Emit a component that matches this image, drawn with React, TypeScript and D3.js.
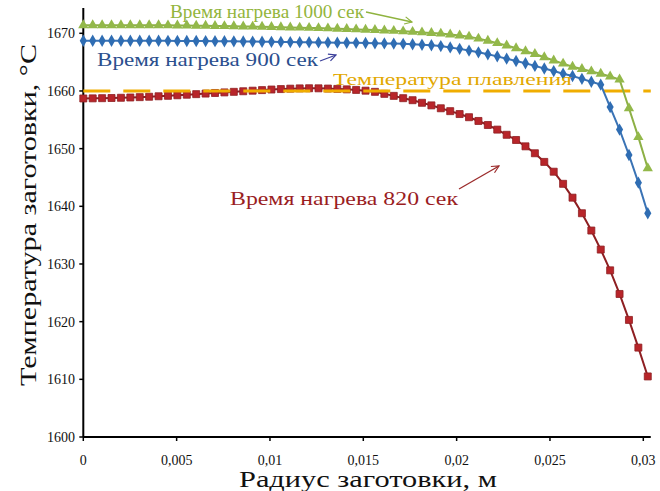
import React, { useEffect, useRef } from 'react';
import * as d3 from 'd3';

// radius grid, m
const radius = [
  0, 0.000504, 0.001008, 0.001512, 0.002016, 0.00252, 0.003024, 0.003528, 0.004032, 0.004536,
  0.00504, 0.005544, 0.006048, 0.006552, 0.007056, 0.00756, 0.008064, 0.008568, 0.009072, 0.009576,
  0.01008, 0.010584, 0.011088, 0.011592, 0.012096, 0.0126, 0.013104, 0.013608, 0.014112, 0.014616,
  0.01512, 0.015624, 0.016128, 0.016632, 0.017136, 0.01764, 0.018144, 0.018648, 0.019152, 0.019656,
  0.02016, 0.020664, 0.021168, 0.021672, 0.022176, 0.02268, 0.023184, 0.023688, 0.024192, 0.024696,
  0.0252, 0.025704, 0.026208, 0.026712, 0.027216, 0.02772, 0.028224, 0.028728, 0.029232, 0.029736,
  0.03024,
];

// heating 1000 s
const temp1000 = [
  1671.4, 1671.4, 1671.4, 1671.4, 1671.4, 1671.4, 1671.4, 1671.4, 1671.4, 1671.38,
  1671.36, 1671.34, 1671.32, 1671.3, 1671.28, 1671.25, 1671.22, 1671.19, 1671.16, 1671.13,
  1671.1, 1671.06, 1671.02, 1670.98, 1670.94, 1670.9, 1670.85, 1670.8, 1670.74, 1670.68,
  1670.62, 1670.56, 1670.49, 1670.42, 1670.34, 1670.25, 1670.16, 1670.06, 1669.95, 1669.8,
  1669.62, 1669.42, 1669.08, 1668.7, 1668.3, 1667.9, 1667.4, 1666.9, 1666.4, 1665.85,
  1665.3, 1664.75, 1664.2, 1663.8, 1663.4, 1663.0, 1662.5, 1662.0, 1657.0, 1652.0,
  1646.6,
];

// heating 900 s
const temp900 = [
  1668.7, 1668.7, 1668.7, 1668.7, 1668.7, 1668.7, 1668.7, 1668.7, 1668.7, 1668.69,
  1668.68, 1668.67, 1668.66, 1668.65, 1668.64, 1668.62, 1668.6, 1668.58, 1668.56, 1668.54,
  1668.52, 1668.5, 1668.48, 1668.46, 1668.44, 1668.42, 1668.4, 1668.38, 1668.36, 1668.34,
  1668.31, 1668.28, 1668.25, 1668.21, 1668.17, 1668.1, 1668.02, 1667.92, 1667.78, 1667.55,
  1667.3, 1667.0, 1666.7, 1666.35, 1666.0, 1665.6, 1665.2, 1664.8, 1664.35, 1663.9,
  1663.45, 1663.0, 1662.6, 1662.1, 1661.6, 1661.1, 1657.2, 1653.3, 1648.9, 1644.1,
  1638.8,
];

// heating 820 s
const temp820 = [
  1658.7, 1658.72, 1658.75, 1658.78, 1658.82, 1658.87, 1658.93, 1659.0, 1659.08, 1659.16,
  1659.25, 1659.35, 1659.45, 1659.55, 1659.65, 1659.75, 1659.85, 1659.95, 1660.05, 1660.15,
  1660.25, 1660.33, 1660.4, 1660.45, 1660.47, 1660.46, 1660.42, 1660.36, 1660.28, 1660.18,
  1660.05, 1659.85, 1659.5, 1659.15, 1658.75, 1658.4, 1657.95, 1657.5, 1657.0, 1656.5,
  1656.0, 1655.45, 1654.8, 1654.1, 1653.3, 1652.4, 1651.5, 1650.4, 1649.2, 1647.7,
  1646.0, 1643.9, 1641.5, 1638.8, 1635.8, 1632.5, 1628.9, 1624.8, 1620.3, 1615.5,
  1610.5,
];

const meltTemp = 1660;

const xTicks = [0, 0.005, 0.01, 0.015, 0.02, 0.025, 0.03];
const yTicks = [1600, 1610, 1620, 1630, 1640, 1650, 1660, 1670];

const xMax = 0.0304;
const yMax = 1674.4;

const W = 660;
const H = 491;
const serif = '"Liberation Serif", "Times New Roman", serif';

export default function App() {
  const ref = useRef<SVGSVGElement>(null);

  useEffect(() => {
    const svg = d3.select(ref.current);
    svg.selectAll('*').remove();

    const x = d3.scaleLinear().domain([0, 0.03]).range([83.3, 643.3]);
    const y = d3.scaleLinear().domain([1600, 1670]).range([437, 33.3]);

    const defs = svg.append('defs');
    const arrow = (id: string, color: string) => {
      defs
        .append('marker')
        .attr('id', id)
        .attr('viewBox', '0 0 10 10')
        .attr('refX', 9)
        .attr('refY', 5)
        .attr('markerWidth', 7)
        .attr('markerHeight', 7)
        .attr('orient', 'auto')
        .append('path')
        .attr('d', 'M1,1 L9,5 L1,9')
        .attr('fill', 'none')
        .attr('stroke', color)
        .attr('stroke-width', 1.3);
    };
    arrow('arGreen', '#8fb33f');
    arrow('arBlue', '#3b3f9a');
    arrow('arRed', '#9b2a2a');

    // axes
    const axes = svg.append('g').attr('stroke', '#000');
    axes
      .append('line')
      .attr('x1', x(0))
      .attr('x2', x(xMax))
      .attr('y1', y(1600))
      .attr('y2', y(1600))
      .attr('stroke-width', 2);
    axes
      .append('line')
      .attr('x1', x(0))
      .attr('x2', x(0))
      .attr('y1', y(1600))
      .attr('y2', y(yMax))
      .attr('stroke-width', 2);
    axes
      .selectAll('.xt')
      .data(xTicks)
      .enter()
      .append('line')
      .attr('x1', d => x(d))
      .attr('x2', d => x(d))
      .attr('y1', y(1600))
      .attr('y2', y(1600) + 4)
      .attr('stroke-width', 1.5);
    axes
      .selectAll('.yt')
      .data(yTicks)
      .enter()
      .append('line')
      .attr('x1', x(0) - 4)
      .attr('x2', x(0))
      .attr('y1', d => y(d))
      .attr('y2', d => y(d))
      .attr('stroke-width', 1.5);

    svg
      .append('g')
      .selectAll('text')
      .data(xTicks)
      .enter()
      .append('text')
      .attr('x', d => x(d))
      .attr('y', 465)
      .attr('text-anchor', 'middle')
      .attr('font-family', serif)
      .attr('font-size', 14)
      .attr('fill', '#111')
      .text(d => String(d).replace('.', ','));

    svg
      .append('g')
      .selectAll('text')
      .data(yTicks)
      .enter()
      .append('text')
      .attr('x', 75)
      .attr('y', d => y(d) + 5)
      .attr('text-anchor', 'end')
      .attr('font-family', serif)
      .attr('font-size', 14)
      .attr('fill', '#111')
      .text(d => d);

    // axis titles
    svg
      .append('text')
      .attr('transform', 'translate(36,215) rotate(-90)')
      .attr('text-anchor', 'middle')
      .attr('font-family', serif)
      .attr('font-size', 23)
      .attr('textLength', 342)
      .attr('lengthAdjust', 'spacingAndGlyphs')
      .attr('fill', '#111')
      .text('Температура заготовки, °С');

    svg
      .append('text')
      .attr('x', 368)
      .attr('y', 487)
      .attr('text-anchor', 'middle')
      .attr('font-family', serif)
      .attr('font-size', 23)
      .attr('textLength', 258)
      .attr('lengthAdjust', 'spacingAndGlyphs')
      .attr('fill', '#111')
      .text('Радиус заготовки, м');

    const lineGen = (vals: number[]) =>
      d3
        .line<number>()
        .x((_, i) => x(radius[i]))
        .y(d => y(d))(vals);

    // 820 s
    const red = svg.append('g');
    red
      .append('path')
      .attr('d', lineGen(temp820))
      .attr('fill', 'none')
      .attr('stroke', '#8e1f22')
      .attr('stroke-width', 2);
    red
      .selectAll('path.m')
      .data(temp820)
      .enter()
      .append('path')
      .attr('class', 'm')
      .attr('transform', (d, i) => `translate(${x(radius[i])},${y(d)})`)
      .attr('d', d3.symbol().type(d3.symbolSquare).size(49)())
      .attr('fill', '#b8252a')
      .attr('stroke', '#8e1f22')
      .attr('stroke-width', 0.8);

    // melting temperature
    svg
      .append('line')
      .attr('x1', x(0))
      .attr('x2', x(xMax))
      .attr('y1', y(meltTemp))
      .attr('y2', y(meltTemp))
      .attr('stroke', '#f0ad00')
      .attr('stroke-width', 3)
      .attr('stroke-dasharray', '27 13');

    // 900 s
    const blue = svg.append('g');
    blue
      .append('path')
      .attr('d', lineGen(temp900))
      .attr('fill', 'none')
      .attr('stroke', '#3a73b5')
      .attr('stroke-width', 2);
    blue
      .selectAll('path.m')
      .data(temp900)
      .enter()
      .append('path')
      .attr('class', 'm')
      .attr('transform', (d, i) => `translate(${x(radius[i])},${y(d)})`)
      .attr('d', d3.symbol().type(d3.symbolDiamond).size(44)())
      .attr('fill', '#2f6db3');

    // 1000 s
    const green = svg.append('g');
    green
      .append('path')
      .attr('d', lineGen(temp1000))
      .attr('fill', 'none')
      .attr('stroke', '#8db045')
      .attr('stroke-width', 2);
    green
      .selectAll('path.m')
      .data(temp1000)
      .enter()
      .append('path')
      .attr('class', 'm')
      .attr('transform', (d, i) => `translate(${x(radius[i])},${y(d)})`)
      .attr('d', d3.symbol().type(d3.symbolTriangle).size(46)())
      .attr('fill', '#93b84a');

    // annotations
    const note = (tx: number, ty: number, size: number, len: number, color: string, label: string) =>
      svg
        .append('text')
        .attr('x', tx)
        .attr('y', ty)
        .attr('font-family', serif)
        .attr('font-size', size)
        .attr('textLength', len)
        .attr('lengthAdjust', 'spacingAndGlyphs')
        .attr('fill', color)
        .text(label);

    note(170, 18, 18, 194, '#93b53c', 'Время нагрева 1000 сек');
    note(97, 66, 19, 221, '#2b4f8e', 'Время нагрева 900 сек');
    note(333, 85, 17, 239, '#e2a800', 'Температура плавления');
    note(230, 205, 19, 228, '#9a1d1f', 'Время нагрева 820 сек');

    const pointer = (x1: number, y1: number, x2: number, y2: number, color: string, id: string) =>
      svg
        .append('line')
        .attr('x1', x1)
        .attr('y1', y1)
        .attr('x2', x2)
        .attr('y2', y2)
        .attr('stroke', color)
        .attr('stroke-width', 1.3)
        .attr('marker-end', `url(#${id})`);

    pointer(366, 12, 412, 22, '#8fb33f', 'arGreen');
    pointer(320, 61, 336, 55, '#3b3f9a', 'arBlue');
    pointer(459, 189, 499, 166, '#9b2a2a', 'arRed');
  }, []);

  return (
    <svg
      ref={ref}
      width={W}
      height={H}
      style={{ position: 'absolute', left: 0, top: 0, background: '#fff', display: 'block' }}
    />
  );
}
